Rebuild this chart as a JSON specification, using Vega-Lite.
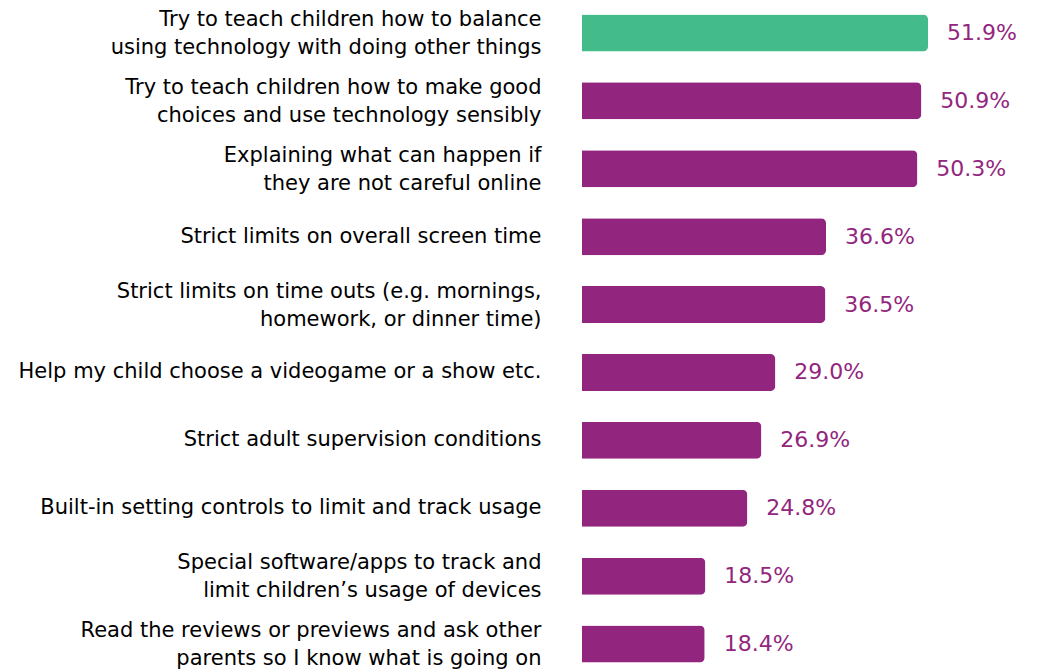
{
  "$schema": "https://vega.github.io/schema/vega-lite/v6.json",
  "autosize": "none",
  "width": 455,
  "height": 663,
  "padding": {"left": 582, "top": 7, "right": 0, "bottom": 0},
  "background": "white",
  "config": {"view": {"stroke": null}},
  "data": {
    "values": [
      {"label": "Try to teach children how to balance|using technology with doing other things", "pct": 0.519, "group": "top"},
      {"label": "Try to teach children how to make good|choices and use technology sensibly", "pct": 0.509, "group": "other"},
      {"label": "Explaining what can happen if|they are not careful online", "pct": 0.503, "group": "other"},
      {"label": "Strict limits on overall screen time", "pct": 0.366, "group": "other"},
      {"label": "Strict limits on time outs (e.g. mornings,|homework, or dinner time)", "pct": 0.365, "group": "other"},
      {"label": "Help my child choose a videogame or a show etc.", "pct": 0.290, "group": "other"},
      {"label": "Strict adult supervision conditions", "pct": 0.269, "group": "other"},
      {"label": "Built-in setting controls to limit and track usage", "pct": 0.248, "group": "other"},
      {"label": "Special software/apps to track and|limit children’s usage of devices", "pct": 0.185, "group": "other"},
      {"label": "Read the reviews or previews and ask other|parents so I know what is going on", "pct": 0.184, "group": "other"}
    ]
  },
  "encoding": {
    "y": {
      "field": "label",
      "type": "nominal",
      "sort": null,
      "scale": {"paddingInner": 0.455, "paddingOuter": 0.11},
      "axis": {
        "title": null,
        "domain": false,
        "ticks": false,
        "labelPadding": 41,
        "labelExpr": "split(datum.label, '|')",
        "labelFont": "DejaVu Sans",
        "labelFontSize": 21,
        "labelFontWeight": "normal",
        "labelColor": "#000000",
        "labelLineHeight": 28,
        "labelOffset": {"condition": {"test": "indexof(datum.value, '|') >= 0", "value": -13}, "value": 0},
        "labelLimit": 0
      }
    },
    "x": {
      "field": "pct",
      "type": "quantitative",
      "scale": {"domain": [0, 0.6825]},
      "axis": null
    }
  },
  "layer": [
    {
      "mark": {"type": "bar", "cornerRadiusEnd": 5},
      "encoding": {
        "color": {
          "field": "group",
          "type": "nominal",
          "scale": {"domain": ["top", "other"], "range": ["#44bb8a", "#92267e"]},
          "legend": null
        }
      }
    },
    {
      "mark": {"type": "text", "align": "left", "dx": 19, "font": "DejaVu Sans", "fontSize": 22, "fontWeight": "normal", "color": "#92267e"},
      "encoding": {
        "text": {"field": "pct", "type": "quantitative", "format": ".1%"}
      }
    }
  ]
}
